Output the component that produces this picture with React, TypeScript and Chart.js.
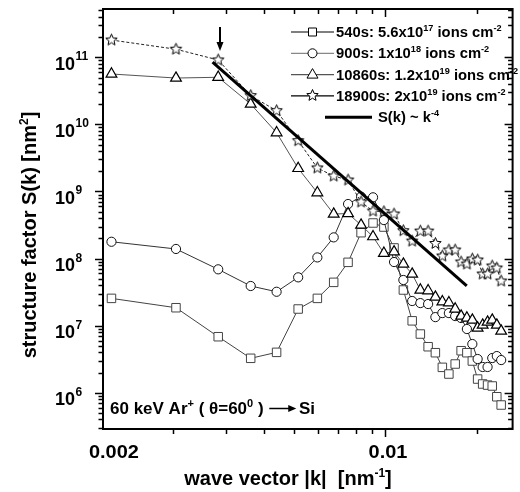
import React, { useEffect, useRef } from 'react';
import { Chart, registerables } from 'chart.js';
Chart.register(...registerables);

// ---------- data ----------
const kValues = [0.001256, 0.002047, 0.002818, 0.003604, 0.004385, 0.005163, 0.00597, 0.006756, 0.007533, 0.008312,
  0.0091, 0.00988, 0.01067, 0.01145, 0.01224, 0.01302, 0.01381, 0.01459, 0.01538, 0.01616,
  0.01695, 0.01773, 0.01852, 0.0193, 0.02009, 0.02087, 0.02166, 0.02244, 0.02323, 0.02401];

const s540 = [2.55e7, 1.85e7, 6.84e6, 3.26e6, 4.0e6, 1.77e7, 2.55e7, 4.42e7, 8.79e7, 2.43e8,
  3.39e8, 2.95e8, 1.44e8, 3.4e7, 1.18e7, 7.5e6, 4.85e6, 3.95e6, 2.39e6, 1.9e6,
  2.68e6, 4.23e6, 3.95e6, 2.97e6, 1.6e6, 1.35e6, 1.3e6, 1.26e6, 8.71e5, 6.56e5];

const s900 = [1.78e8, 1.39e8, 6.91e7, 3.9e7, 3.2e7, 5.25e7, 1.04e8, 2.07e8, 6.5e8, 8.36e8,
  8.18e8, 3.75e8, 8.88e7, 4.79e7, 2.33e7, 2.17e7, 2.1e7, 1.34e7, 1.54e7, 1.54e7,
  1.39e7, 1.3e7, 8.91e6, 5.32e6, 3.18e6, 2.42e6, 2.42e6, 3.29e6, 3.52e6, 3.07e6];

const s10860 = [5.64e10, 4.91e10, 5.04e10, 2.01e10, 7.52e9, 2.21e9, 9.59e8, 4.61e8, 4.69e8, 3.16e8,
  2.12e8, 1.2e8, 1.26e8, 8.29e7, 5.88e7, 3.4e7, 3.32e7, 2.67e7, 2.27e7, 2.2e7,
  1.77e7, 1.39e7, 1.3e7, 1.21e7, 9.22e6, 1.02e7, 1.13e7, 1.21e7, 1.02e7, 8.31e6];

const s18900 = [1.81e11, 1.32e11, 9.12e10, 2.68e10, 1.6e10, 5.71e9, 2.24e9, 1.7e9, 1.48e9, 6.97e8,
  5.11e8, 4.99e8, 4.61e8, 2.6e8, 1.82e8, 2.57e8, 2.57e8, 1.68e8, 1.09e8, 1.34e8,
  1.34e8, 8.88e7, 8.29e7, 9.84e7, 9.51e7, 5.88e7, 5.88e7, 7.74e7, 7.23e7, 4.62e7];

const fitK = [0.0027, 0.0185];
const fitS = [8.5e10, 3.9e7];

const xRange = [0.001178, 0.02618];
const yRange = [2.88e5, 5.25e11];

const xTickValues = [0.002, 0.003, 0.004, 0.005, 0.006, 0.007, 0.008, 0.009, 0.01, 0.02];
const xMajorTicks = [0.01];
const xTickLabels = ['0.002', '0.01'];
const yDecades = [5, 6, 7, 8, 9, 10, 11];
const yLabelDecades = [6, 7, 8, 9, 10, 11];

type Seg = { t: string; sup?: boolean };
const legendTexts: Seg[][] = [
  [{ t: '540s: 5.6x10' }, { t: '17', sup: true }, { t: ' ions cm' }, { t: '-2', sup: true }],
  [{ t: '900s: 1x10' }, { t: '18', sup: true }, { t: ' ions cm' }, { t: '-2', sup: true }],
  [{ t: '10860s: 1.2x10' }, { t: '19', sup: true }, { t: ' ions cm' }, { t: '-2', sup: true }],
  [{ t: '18900s: 2x10' }, { t: '19', sup: true }, { t: ' ions cm' }, { t: '-2', sup: true }],
  [{ t: 'S(k) ~ k' }, { t: '-4', sup: true }],
];
const xTitle: Seg[] = [{ t: 'wave vector |k|  [nm' }, { t: '-1', sup: true }, { t: ']' }];
const yTitle: Seg[] = [{ t: 'structure factor S(k) [nm' }, { t: '2', sup: true }, { t: ']' }];
const annotation1: Seg[] = [{ t: '60 keV Ar' }, { t: '+', sup: true }, { t: ' ( \u03B8=60' }, { t: '0', sup: true }, { t: ' ) ' }];
const annotation2: Seg[] = [{ t: ' Si' }];

// ---------- helpers ----------
const FAMILY = '"Liberation Sans", Arial, Helvetica, sans-serif';

function drawRich(ctx: CanvasRenderingContext2D, segs: Seg[], x: number, y: number, size: number,
  align: 'left' | 'center' | 'right', sx = 1): number {
  const supSize = Math.round(size * 0.62);
  const font = (s: number) => `bold ${s}px ${FAMILY}`;
  let w = 0;
  const widths = segs.map((s) => {
    ctx.font = font(s.sup ? supSize : size);
    const m = ctx.measureText(s.t).width;
    w += m;
    return m;
  });
  ctx.save();
  ctx.translate(x, y);
  ctx.scale(sx, 1);
  ctx.textAlign = 'left';
  ctx.textBaseline = 'alphabetic';
  ctx.fillStyle = '#000';
  let cx = align === 'left' ? 0 : align === 'center' ? -w / 2 : -w;
  segs.forEach((s, i) => {
    ctx.font = font(s.sup ? supSize : size);
    ctx.fillText(s.t, cx, s.sup ? -size * 0.42 : 0);
    cx += widths[i];
  });
  ctx.restore();
  return w * sx;
}

function makeStar(r: number, color: string): HTMLCanvasElement {
  const size = Math.ceil(r * 2 + 3) | 1;
  const c = document.createElement('canvas');
  c.width = size;
  c.height = size;
  const g = c.getContext('2d')!;
  g.translate(size / 2, size / 2);
  g.beginPath();
  for (let i = 0; i < 10; i++) {
    const rad = i % 2 === 0 ? r : r * 0.45;
    const a = -Math.PI / 2 + (i * Math.PI) / 5;
    const px = rad * Math.cos(a);
    const py = rad * Math.sin(a);
    if (i === 0) g.moveTo(px, py);
    else g.lineTo(px, py);
  }
  g.closePath();
  g.fillStyle = '#fff';
  g.fill();
  g.lineWidth = 1;
  g.strokeStyle = color;
  g.stroke();
  return c;
}

function drawMarker(ctx: CanvasRenderingContext2D, kind: string, x: number, y: number, star: HTMLCanvasElement) {
  ctx.save();
  ctx.lineWidth = 1;
  ctx.strokeStyle = '#000';
  ctx.fillStyle = '#fff';
  ctx.beginPath();
  if (kind === 'rect') {
    ctx.rect(x - 4, y - 4, 8, 8);
    ctx.fill();
    ctx.stroke();
  } else if (kind === 'circle') {
    ctx.arc(x, y, 4.5, 0, Math.PI * 2);
    ctx.fill();
    ctx.stroke();
  } else if (kind === 'triangle') {
    ctx.moveTo(x, y - 6);
    ctx.lineTo(x + 5.5, y + 3.5);
    ctx.lineTo(x - 5.5, y + 3.5);
    ctx.closePath();
    ctx.fill();
    ctx.stroke();
  } else {
    ctx.drawImage(star, Math.round(x - star.width / 2), Math.round(y - star.height / 2));
  }
  ctx.restore();
}

export default function App() {
  const ref = useRef<HTMLCanvasElement>(null);

  useEffect(() => {
    document.body.style.margin = '0';
    document.body.style.overflow = 'hidden';
    const star = makeStar(6, '#000');
    const markerKinds = ['rect', 'circle', 'triangle', 'star'];
    const legendLineColors = ['#000', '#888', '#555', '#000'];

    const pts = (ys: number[]) => kValues.map((k, i) => ({ x: k, y: ys[i] }));

    const decor = {
      id: 'decor',
      beforeDraw(chart: any) {
        const ctx = chart.ctx as CanvasRenderingContext2D;
        ctx.save();
        ctx.fillStyle = '#fff';
        ctx.fillRect(0, 0, chart.width, chart.height);
        ctx.restore();
      },
      afterDraw(chart: any) {
        const ctx = chart.ctx as CanvasRenderingContext2D;
        const xs = chart.scales.x;
        const ys = chart.scales.y;
        const { left, right, top, bottom } = chart.chartArea;
        ctx.save();
        // frame
        ctx.strokeStyle = '#000';
        ctx.lineWidth = 2;
        ctx.strokeRect(left, top, right - left, bottom - top);
        // x ticks
        ctx.lineWidth = 1.5;
        xTickValues.forEach((v) => {
          const px = Math.round(xs.getPixelForValue(v)) + 0.5;
          const len = xMajorTicks.includes(v) ? 8 : 5;
          ctx.beginPath();
          ctx.moveTo(px, bottom);
          ctx.lineTo(px, bottom + len);
          ctx.moveTo(px, top);
          ctx.lineTo(px, top + len);
          ctx.stroke();
        });
        // y ticks
        yDecades.forEach((d) => {
          for (let m = 1; m <= 9; m++) {
            const v = m * Math.pow(10, d);
            if (v < yRange[0] || v > yRange[1]) continue;
            const py = Math.round(ys.getPixelForValue(v)) + 0.5;
            const len = m === 1 ? 8 : 4.5;
            ctx.beginPath();
            ctx.moveTo(left - len, py);
            ctx.lineTo(left, py);
            ctx.moveTo(right - len, py);
            ctx.lineTo(right, py);
            ctx.stroke();
          }
        });
        // y tick labels
        yLabelDecades.forEach((d) => {
          const py = ys.getPixelForValue(Math.pow(10, d));
          ctx.font = `bold 18px ${FAMILY}`;
          ctx.fillStyle = '#000';
          ctx.textAlign = 'right';
          ctx.textBaseline = 'alphabetic';
          ctx.fillText('10', 75, py + 12.5);
          ctx.font = `bold 12px ${FAMILY}`;
          ctx.textAlign = 'left';
          ctx.fillText(String(d), 75.5, py + 3);
        });
        // x tick labels
        const p002 = xs.getPixelForValue(0.002);
        const p01 = xs.getPixelForValue(0.01);
        drawRich(ctx, [{ t: xTickLabels[0] }], p002 - 59, 457.5, 19, 'center', 1.05);
        drawRich(ctx, [{ t: xTickLabels[1] }], p01 + 2.5, 457.5, 19, 'center', 1.05);
        // axis titles
        drawRich(ctx, xTitle, 288, 485, 20, 'center');
        ctx.save();
        ctx.translate(36, 235);
        ctx.rotate(-Math.PI / 2);
        drawRich(ctx, yTitle, 0, 0, 20, 'center');
        ctx.restore();
        // legend
        for (let i = 0; i < 5; i++) {
          const yy = 32 + i * 21.3;
          if (i < 4) {
            ctx.strokeStyle = legendLineColors[i];
            ctx.lineWidth = 1.2;
            ctx.beginPath();
            ctx.moveTo(291, yy);
            ctx.lineTo(334, yy);
            ctx.stroke();
            drawMarker(ctx, markerKinds[i], 312.5, yy, star);
            drawRich(ctx, legendTexts[i], 336, yy + 5, 14.5, 'left', 1.02);
          } else {
            ctx.strokeStyle = '#000';
            ctx.lineWidth = 3;
            ctx.beginPath();
            ctx.moveTo(325, yy);
            ctx.lineTo(372, yy);
            ctx.stroke();
            drawRich(ctx, legendTexts[i], 378, yy + 5, 14.5, 'left', 1.02);
          }
        }
        // arrow marking the onset
        const ax = Math.round(xs.getPixelForValue(kValues[2])) + 2;
        ctx.strokeStyle = '#000';
        ctx.fillStyle = '#000';
        ctx.lineWidth = 2;
        ctx.beginPath();
        ctx.moveTo(ax, 27);
        ctx.lineTo(ax, 44);
        ctx.stroke();
        ctx.beginPath();
        ctx.moveTo(ax - 3.5, 42);
        ctx.lineTo(ax + 3.5, 42);
        ctx.lineTo(ax, 51);
        ctx.closePath();
        ctx.fill();
        // annotation
        const w1 = drawRich(ctx, annotation1, 110, 414, 17, 'left');
        const ax0 = 110 + w1 + 1;
        ctx.lineWidth = 1.5;
        ctx.beginPath();
        ctx.moveTo(ax0, 408.5);
        ctx.lineTo(ax0 + 22, 408.5);
        ctx.stroke();
        ctx.beginPath();
        ctx.moveTo(ax0 + 19, 405);
        ctx.lineTo(ax0 + 27, 408.5);
        ctx.lineTo(ax0 + 19, 412);
        ctx.closePath();
        ctx.fill();
        drawRich(ctx, annotation2, ax0 + 25, 414, 17, 'left');
        ctx.restore();
      },
    };

    const chart = new Chart(ref.current!, {
      type: 'line',
      data: {
        datasets: [
          {
            label: 'S(k) ~ k^-4',
            data: fitK.map((k, i) => ({ x: k, y: fitS[i] })),
            borderColor: '#000',
            borderWidth: 3,
            pointRadius: 0,
          },
          {
            label: '18900s',
            data: pts(s18900),
            borderColor: '#222',
            borderWidth: 1,
            borderDash: [3, 2],
            pointStyle: star as any,
            pointRadius: 6,
          },
          {
            label: '10860s',
            data: pts(s10860),
            borderColor: '#555',
            borderWidth: 1,
            pointStyle: 'triangle',
            pointRadius: 6.2,
            pointBorderColor: '#000',
            pointBackgroundColor: '#fff',
            pointBorderWidth: 1.2,
          },
          {
            label: '900s',
            data: pts(s900),
            borderColor: '#333',
            borderWidth: 1,
            pointStyle: 'circle',
            pointRadius: 4.6,
            pointBorderColor: '#111',
            pointBackgroundColor: '#fff',
            pointBorderWidth: 1,
          },
          {
            label: '540s',
            data: pts(s540),
            borderColor: '#444',
            borderWidth: 1,
            pointStyle: 'rect',
            pointRadius: 6,
            pointBorderColor: '#444',
            pointBackgroundColor: '#fff',
            pointBorderWidth: 1,
          },
        ],
      },
      options: {
        responsive: false,
        animation: false,
        devicePixelRatio: 1,
        events: [],
        layout: { padding: { left: 103, top: 9, right: -2, bottom: 63 } },
        scales: {
          x: { type: 'logarithmic', min: xRange[0], max: xRange[1], display: false },
          y: { type: 'logarithmic', min: yRange[0], max: yRange[1], display: false },
        },
        plugins: { legend: { display: false }, tooltip: { enabled: false } },
      } as any,
      plugins: [decor],
    });
    return () => chart.destroy();
  }, []);

  return <canvas ref={ref} width={520} height={492} style={{ display: 'block', width: 520, height: 492 }} />;
}
